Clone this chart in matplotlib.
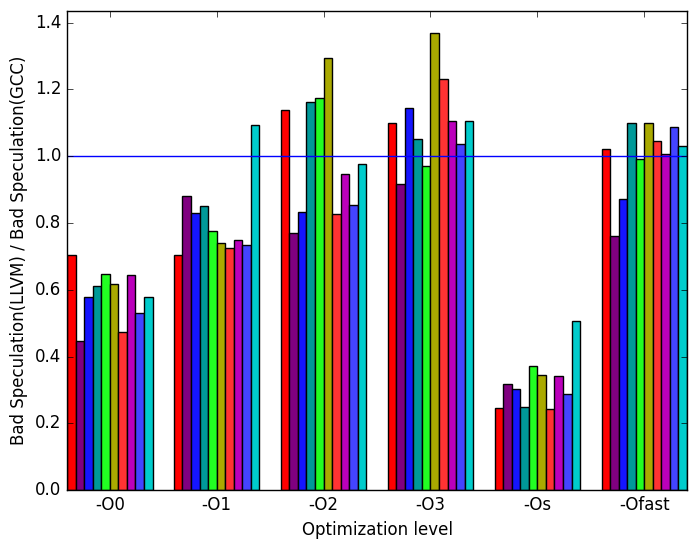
import matplotlib
matplotlib.use('Agg')
import matplotlib.pyplot as plt
import numpy as np

plt.style.use('classic')

# optimization levels on the x axis
levels = ['-O0', '-O1', '-O2', '-O3', '-Os', '-Ofast']

# one row per benchmark, one value per optimization level
ratios = [
    [0.704, 0.704, 1.137, 1.101, 0.245, 1.023],
    [0.445, 0.880, 0.771, 0.918, 0.319, 0.762],
    [0.577, 0.830, 0.834, 1.143, 0.304, 0.873],
    [0.610, 0.850, 1.162, 1.053, 0.250, 1.099],
    [0.646, 0.775, 1.173, 0.972, 0.373, 0.992],
    [0.617, 0.740, 1.295, 1.370, 0.346, 1.100],
    [0.472, 0.725, 0.826, 1.230, 0.242, 1.047],
    [0.644, 0.750, 0.948, 1.105, 0.343, 1.008],
    [0.529, 0.735, 0.855, 1.038, 0.289, 1.087],
    [0.579, 1.093, 0.978, 1.105, 0.505, 1.032],
]

colors = ['#ff0000', '#800080', '#1515ff', '#009999', '#22ff22',
          '#aaaa00', '#ff3333', '#bb00bb', '#4444ff', '#00cccc']

fig = plt.figure(figsize=(6.97, 5.48), dpi=100, facecolor='white')
ax = fig.add_axes([0.0961, 0.1058, 0.8896, 0.8741])

x = np.arange(len(levels))
width = 0.08
for i, vals in enumerate(ratios):
    ax.bar(x - 0.4 + i * width, vals, width, align='edge',
           color=colors[i], edgecolor='black', linewidth=1)

# reference line: equal bad speculation
ax.axhline(1.0, color='blue')

ax.set_xticks(x)
ax.set_xticklabels(levels)
ax.set_xlim(-0.4, 5.4)
ax.set_ylim(0, 1.435)
ax.set_yticks(np.arange(0, 1.41, 0.2))
ax.set_xlabel('Optimization level')
ax.set_ylabel('Bad Speculation(LLVM) / Bad Speculation(GCC)')

fig.savefig('out.png', dpi=100, facecolor='white')
